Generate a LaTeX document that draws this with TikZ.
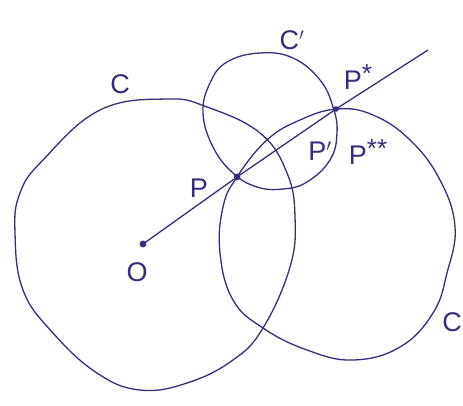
\documentclass[tikz,border=0pt]{standalone}
\usepackage{fontspec}
\setmainfont{Liberation Sans}
\definecolor{ink}{RGB}{52,46,125}
\newcommand{\inkstar}[1]{\raisebox{7pt}{\fontsize{26}{26}\selectfont #1}}
\begin{document}
\begin{tikzpicture}[x=1pt,y=-1pt,
  curve/.style={draw=ink,line width=1.3pt,line join=round},
  lbl/.style={text=ink,font=\fontsize{27}{27}\selectfont,inner sep=0pt},
  dotmark/.style={fill=ink}]
\useasboundingbox (0,0) rectangle (463,405);
% circle C
\draw[curve] plot[smooth cycle,tension=0.7] coordinates {
 (15,233) (20,193) (43,160) (100,110) (167,99) (207,107) (260,133) (287,173)
 (295,217) (290,267) (263,328) (233,360) (187,383) (140,390) (97,373)
 (53,333) (23,290)};
% circle C'
\draw[curve] plot[smooth cycle,tension=0.7] coordinates {
 (227,62) (260,53) (293,58) (320,80) (333,107) (337,133) (330,160) (307,182)
 (283,189) (257,187) (233,173) (213,147) (203,113) (210,83)};
% circle C''
\draw[curve] plot[smooth cycle,tension=0.7] coordinates {
 (237,177) (267,140) (300,120) (337,109) (373,115) (410,140) (440,180)
 (455,227) (447,273) (433,313) (400,347) (353,360) (307,350) (263,328)
 (233,300) (220,253) (223,207)};
% points
\coordinate (O) at (143,244);
\coordinate (P) at (237,177);
\coordinate (Ps) at (336,109);
\coordinate (E) at (428,50);
\draw[curve] (O) -- (P) -- (Ps) -- (E);
\fill[dotmark] (O) circle (3.4pt);
\fill[dotmark] (P) circle (3.4pt);
\fill[dotmark] (Ps) circle (2.8pt);
% labels
\node[lbl] (lC) at (120,84) {C};
\node[lbl] (lC1) at (292,40) {C$'$};
\node[lbl] (lPs) at (358,77) {P\inkstar{*}};
\node[lbl] (lP1) at (320,151) {P$'$};
\node[lbl] (lPss) at (368,152) {P\inkstar{**}};
\node[lbl] (lP) at (199,188) {P};
\node[lbl] (lO) at (137,272) {O};
\node[lbl,anchor=east] (lC2) at (462,322) {C};
\end{tikzpicture}
\end{document}
